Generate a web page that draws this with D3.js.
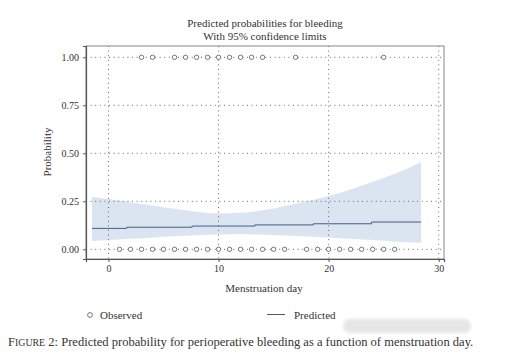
<!DOCTYPE html>
<html>
<head>
<meta charset="utf-8">
<script src="https://cdn.jsdelivr.net/npm/d3@7/dist/d3.min.js"></script>
<style>
  html, body { margin: 0; padding: 0; background: #fff; }
  svg { display: block; }
  text { font-family: "Liberation Serif", "DejaVu Serif", serif; fill: #333; }
</style>
</head>
<body>
<svg id="chart" width="513" height="361"></svg>
<script>
// ---- data ----
const titleLines = ["Predicted probabilities for bleeding", "With 95% confidence limits"];
const xTicks = [0, 10, 20, 30];
const yTicks = [0, 0.25, 0.5, 0.75, 1];
const observedDays1 = [3, 4, 6, 7, 8, 9, 10, 11, 12, 13, 14, 17, 25];
const observedDays0 = [1, 2, 3, 4, 5, 6, 7, 8, 9, 10, 11, 12, 13, 14, 15, 16, 18, 19, 20, 21, 22, 23, 24, 25, 26];
const predDays = [-1.5, 1.65, 7.6, 13.3, 18.6, 23.9, 28.4];
const predValues = [0.109, 0.115, 0.121, 0.127, 0.133, 0.142, 0.142];
const ciDays =  [-1.5, 0, 2, 4, 6, 8, 10, 12, 14, 16, 18, 20, 22, 24, 26, 28.4];
const ciUpper = [0.274, 0.262, 0.245, 0.228, 0.211, 0.196, 0.187, 0.190, 0.203, 0.224, 0.250, 0.278, 0.312, 0.350, 0.393, 0.455];
const ciLower = [0.043, 0.048, 0.055, 0.062, 0.068, 0.073, 0.077, 0.078, 0.076, 0.072, 0.067, 0.062, 0.055, 0.048, 0.041, 0.034];

// ---- layout ----
const svg = d3.select("#chart");
const L = 86, R = 444, T = 46, B = 259;
const x = d3.scaleLinear().domain([-2.044, 30.48]).range([L, R]);
const y = d3.scaleLinear().domain([-0.0505, 1.0589]).range([B, T]);

// watermark-like blur
const defs = svg.append("defs");
defs.append("filter").attr("id", "blur").append("feGaussianBlur").attr("stdDeviation", 1.5);
svg.append("rect").attr("x", 343).attr("y", 319).attr("width", 128).attr("height", 14)
  .attr("rx", 7).attr("fill", "#e6e6e6").attr("filter", "url(#blur)");

// title
svg.selectAll("text.title").data(titleLines).join("text")
  .attr("class", "title")
  .attr("x", 265).attr("y", (d, i) => 26.5 + i * 13.5)
  .attr("text-anchor", "middle").attr("font-size", 11)
  .text(d => d);

// CI band
const ciData = ciDays.map((d, i) => ({ d, lo: ciLower[i], hi: ciUpper[i] }));
svg.append("path").datum(ciData)
  .attr("fill", "#dbe5f1")
  .attr("d", d3.area().x(p => x(p.d)).y0(p => y(p.lo)).y1(p => y(p.hi)).curve(d3.curveMonotoneX));

// grid
const g = svg.append("g");
g.selectAll("line.vg").data(xTicks).join("line")
  .attr("x1", d => x(d)).attr("x2", d => x(d)).attr("y1", T).attr("y2", B)
  .attr("stroke", "#666").attr("stroke-width", 1).attr("stroke-dasharray", "1,3.6");
g.selectAll("line.hg").data(yTicks).join("line")
  .attr("x1", L).attr("x2", R).attr("y1", d => y(d)).attr("y2", d => y(d))
  .attr("stroke", "#666").attr("stroke-width", 1).attr("stroke-dasharray", "1,3.6");

// predicted line
const predData = predDays.map((d, i) => ({ d, v: predValues[i] }));
svg.append("path").datum(predData)
  .attr("fill", "none").attr("stroke", "#4b5a85").attr("stroke-width", 1)
  .attr("d", d3.line().x(p => x(p.d)).y(p => y(p.v)).curve(d3.curveStepAfter));

// observed
const obs = observedDays1.map(d => ({ d, v: 1 })).concat(observedDays0.map(d => ({ d, v: 0 })));
svg.selectAll("circle.obs").data(obs).join("circle")
  .attr("cx", p => x(p.d)).attr("cy", p => y(p.v)).attr("r", 2.2)
  .attr("fill", "#fff").attr("stroke", "#666").attr("stroke-width", 0.9);

// frame
svg.append("rect").attr("x", L).attr("y", T).attr("width", R - L).attr("height", B - T)
  .attr("fill", "none").attr("stroke", "#888").attr("stroke-width", 1);

// axes
const xAxis = svg.append("g").attr("transform", `translate(0,${B})`)
  .call(d3.axisBottom(x).tickValues(xTicks).tickSize(3).tickPadding(3).tickFormat(d3.format("d")));
const yAxis = svg.append("g").attr("transform", `translate(${L},0)`)
  .call(d3.axisLeft(y).tickValues(yTicks).tickSize(3).tickPadding(4).tickFormat(d3.format(".2f")));
[xAxis, yAxis].forEach(a => {
  a.select(".domain").attr("stroke", "#555").attr("stroke-width", 1.2);
  a.selectAll(".tick line").attr("stroke", "#555");
  a.selectAll(".tick text").attr("font-family", "Liberation Serif, serif").attr("font-size", 10).attr("fill", "#333");
});

// axis titles
svg.append("text").attr("x", 264).attr("y", 292).attr("text-anchor", "middle").attr("font-size", 11)
  .text("Menstruation day");
svg.append("text").attr("transform", "translate(51,152) rotate(-90)").attr("text-anchor", "middle")
  .attr("font-size", 11).text("Probability");

// legend
svg.append("circle").attr("cx", 90).attr("cy", 315).attr("r", 2.4)
  .attr("fill", "#fff").attr("stroke", "#666").attr("stroke-width", 0.9);
svg.append("text").attr("x", 100).attr("y", 318.5).attr("font-size", 11).text("Observed");
svg.append("line").attr("x1", 267).attr("x2", 285).attr("y1", 314.5).attr("y2", 314.5)
  .attr("stroke", "#4b5a85").attr("stroke-width", 1);
svg.append("text").attr("x", 294).attr("y", 318.5).attr("font-size", 11).text("Predicted");

// caption
const cap = svg.append("text").attr("x", 8).attr("y", 345.5).attr("font-size", 12.55).attr("fill", "#222");
cap.append("tspan").text("F");
cap.append("tspan").attr("font-size", 9.9).text("IGURE");
cap.append("tspan").text(" 2: Predicted probability for perioperative bleeding as a function of menstruation day.");
</script>
</body>
</html>
